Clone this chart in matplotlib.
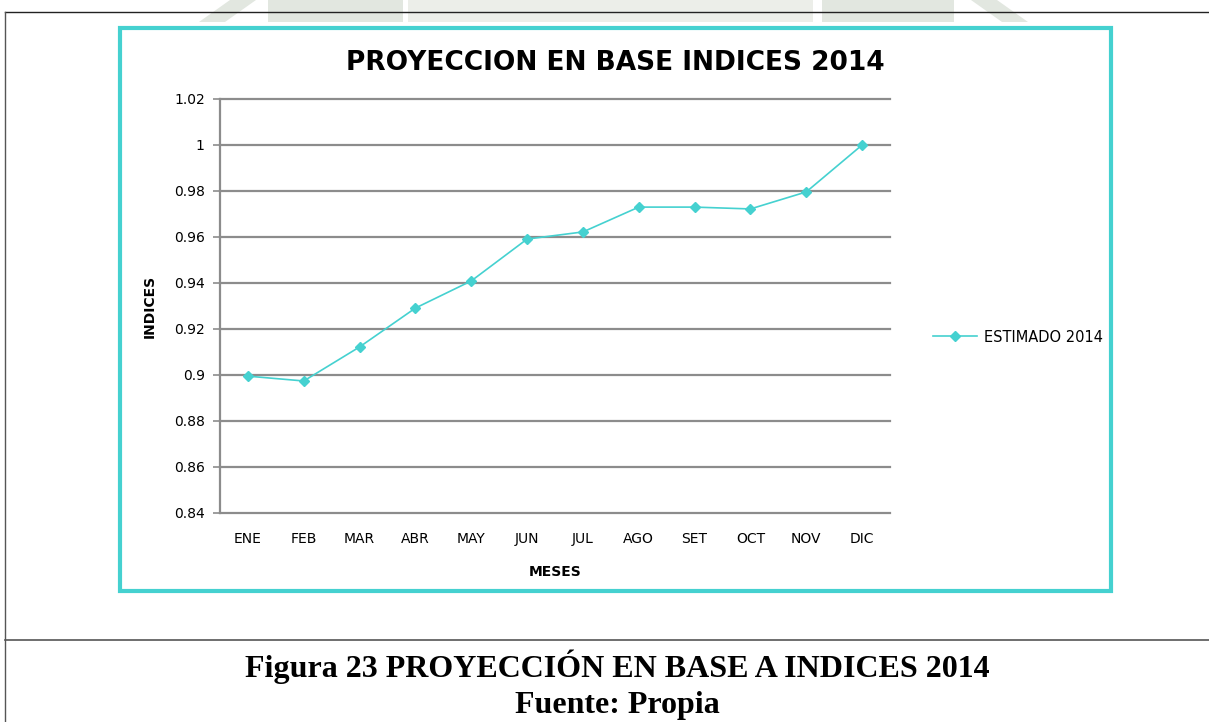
import matplotlib.pyplot as plt
from matplotlib.patches import Rectangle, Polygon
from matplotlib.lines import Line2D

meses = ['ENE', 'FEB', 'MAR', 'ABR', 'MAY', 'JUN', 'JUL', 'AGO', 'SET', 'OCT', 'NOV', 'DIC']
estimado_2014 = [0.8995, 0.8974, 0.9122, 0.9291, 0.9409, 0.9591, 0.9622,
                 0.9730, 0.9730, 0.9722, 0.9796, 1.0]
y_ticks = [0.84, 0.86, 0.88, 0.9, 0.92, 0.94, 0.96, 0.98, 1, 1.02]
y_labels = ['0.84', '0.86', '0.88', '0.9', '0.92', '0.94', '0.96', '0.98', '1', '1.02']

W, H = 1209, 722
turq = '#45d1d0'

fig = plt.figure(figsize=(W / 100, H / 100), dpi=100)


def px(x, y):
    return (x / W, 1 - y / H)


# faint watermark of the page background (top)
wm = '#e2e7e0'
wh = 22
fig.add_artist(Polygon([px(199, wh), px(230, 0), px(256, 0), px(225, wh)], closed=True,
                       facecolor=wm, edgecolor='none', zorder=-2))
fig.add_artist(Rectangle(px(268, wh), (403 - 268) / W, wh / H, facecolor=wm,
                         edgecolor='none', zorder=-2))
fig.add_artist(Rectangle(px(408, wh), (813 - 408) / W, wh / H, facecolor='#eceee9',
                         edgecolor='none', zorder=-2))
fig.add_artist(Rectangle(px(822, wh), (954 - 822) / W, wh / H, facecolor=wm,
                         edgecolor='none', zorder=-2))
fig.add_artist(Polygon([px(971, 0), px(997, 0), px(1028, wh), px(1002, wh)], closed=True,
                       facecolor=wm, edgecolor='none', zorder=-2))

# page lines (table of the document)
fig.add_artist(Line2D([5 / W, 1], [1 - 12 / H, 1 - 12 / H], color='#222222', lw=1))
fig.add_artist(Line2D([5 / W, 5 / W], [0, 1 - 12 / H], color='#555555', lw=1))
fig.add_artist(Line2D([5 / W, 1], [1 - 640 / H, 1 - 640 / H], color='#555555', lw=1.2))

# chart frame
fig.add_artist(Rectangle((120 / W, 1 - 591 / H), (1111 - 120) / W, (591 - 28) / H,
                         fill=False, edgecolor=turq, lw=3))

ax = fig.add_axes([220 / W, 1 - 513 / H, 670 / W, (513 - 99) / H])
ax.patch.set_alpha(0)
ax.plot(range(len(meses)), estimado_2014, color=turq, lw=1.2,
        marker='D', markersize=5, label='ESTIMADO 2014')

ax.set_xlim(-0.5, len(meses) - 0.5)
ax.set_ylim(0.84, 1.02)
ax.set_yticks(y_ticks)
ax.set_yticklabels(y_labels)
ax.set_xticks(range(len(meses)))
ax.set_xticklabels(meses)
ax.grid(axis='y', color='#8c8c8c', lw=1.6)
for gl in ax.get_ygridlines():
    gl.set_clip_on(False)
ax.set_axisbelow(True)
for s in ['top', 'right', 'bottom']:
    ax.spines[s].set_visible(False)
ax.spines['left'].set_color('#8c8c8c')
ax.spines['left'].set_linewidth(1.6)
ax.tick_params(axis='y', length=5, color='#8c8c8c', width=1.2, labelsize=10, pad=6)
ax.tick_params(axis='x', length=0, labelsize=10, pad=14)

ax.set_xlabel('MESES', fontsize=10, fontweight='bold', labelpad=13)
ax.set_ylabel('INDICES', fontsize=10, fontweight='bold', labelpad=12)

fig.text(615 / W, 1 - 63 / H, 'PROYECCION EN BASE INDICES 2014', ha='center', va='center',
         fontsize=19, fontweight='bold', family='DejaVu Sans')

ax.legend(loc='center left', bbox_to_anchor=(1.045, 0.425), frameon=False, fontsize=10.5,
          handlelength=3, handletextpad=0.5)

fig.text(617 / W, 1 - 667 / H, 'Figura 23 PROYECCIÓN EN BASE A INDICES 2014', ha='center',
         va='center', fontsize=23, fontweight='bold', family='Liberation Serif')
fig.text(617 / W, 1 - 705 / H, 'Fuente: Propia', ha='center', va='center',
         fontsize=23, fontweight='bold', family='Liberation Serif')

fig.savefig('out.png', dpi=100)
